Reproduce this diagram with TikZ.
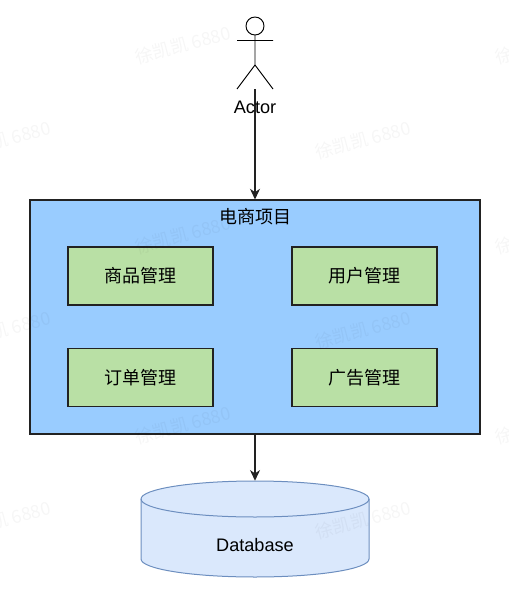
\documentclass[tikz,border=0pt]{standalone}
\usepackage{fontspec}
\setmainfont{Liberation Sans}
\newfontfamily\cjk{Noto Sans CJK SC}
\usetikzlibrary{arrows.meta}
\definecolor{bluefill}{HTML}{99CCFF}
\definecolor{greenfill}{HTML}{B9E0A5}
\definecolor{dbfill}{HTML}{DAE8FC}
\definecolor{dbline}{HTML}{6C8EBF}
\definecolor{inkline}{HTML}{222222}
\tikzset{
  x=0.75pt,y=-0.75pt,
  outerbox/.style={draw=inkline,line width=0.8pt,fill=bluefill,inner sep=0pt,minimum width=337.5pt,minimum height=175.5pt},
  modbox/.style={draw=inkline,line width=0.8pt,fill=greenfill,inner sep=0pt,minimum width=108.75pt,minimum height=43.5pt,font=\cjk\fontsize{13.5}{15}\selectfont},
  labelonly/.style={inner sep=0pt,font=\fontsize{13.6}{15}\selectfont},
  conn/.style={draw=inkline,line width=0.9pt,-{Stealth[length=8pt,width=7.5pt,inset=2.5pt]}},
  actorline/.style={draw=black,line width=0.7pt},
  wm/.style={rotate=15,text=black,opacity=0.035,inner sep=0pt,font=\cjk\fontsize{13.5}{15}\selectfont}
}
\begin{document}
\begin{tikzpicture}
\useasboundingbox (0,0) rectangle (508,589);
% actor
\coordinate (head) at (255,26);
\draw[actorline] (head) circle[radius=9];
\coordinate (neck) at (255,35);
\coordinate (hip) at (255,65);
\coordinate (armL) at (237,40.5);
\coordinate (armR) at (273,40.5);
\coordinate (footL) at (237,89);
\coordinate (footR) at (273,89);
\draw[actorline] (neck) -- (hip) (armL) -- (armR) (footL) -- (hip) -- (footR);
\coordinate (actorbase) at (255,89);
% main box
\node[outerbox] (main) at (255,317) {};
\node[labelonly,font=\cjk\fontsize{13.5}{15}\selectfont] (title) at (255.5,217) {电商项目};
\node[modbox] (m1) at (140.5,276) {商品管理};
\node[modbox] (m2) at (364.5,276) {用户管理};
\node[modbox] (m3) at (140.5,377.5) {订单管理};
\node[modbox] (m4) at (364.5,377.5) {广告管理};
% database
\node[inner sep=0pt,minimum width=171pt,minimum height=72pt] (db) at (255,529) {};
\draw[draw=dbline,line width=0.75pt,fill=dbfill]
  (141,499) .. controls (141,489) and (192,481) .. (255,481)
  .. controls (318,481) and (369,489) .. (369,499)
  -- (369,559) .. controls (369,569) and (318,577) .. (255,577)
  .. controls (192,577) and (141,569) .. (141,559) -- cycle;
\draw[draw=dbline,line width=0.75pt]
  (141,499) .. controls (141,509) and (192,517) .. (255,517)
  .. controls (318,517) and (369,509) .. (369,499);
\node[labelonly] (dblabel) at (255,545.5) {Database};
% connectors
\draw[conn] (actorbase) -- (main.north);
\draw[conn] (main.south) -- (db.north);
\node[labelonly] (actorlabel) at (255,107.5) {Actor};
% watermarks
\foreach \i/\px/\py in {1/183/45,2/363/140,3/3/140,4/183/235,5/363/330,6/3/330,7/183/425,8/363/520,9/3/520,10/543/45,11/543/235,12/543/425}
  \node[wm] (wm\i) at (\px,\py) {徐凯凯 6880};
\end{tikzpicture}
\end{document}
